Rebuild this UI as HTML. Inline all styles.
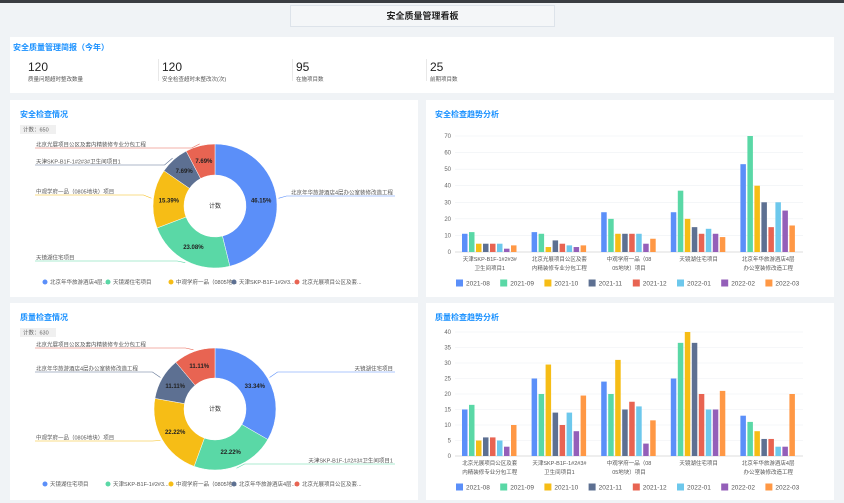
<!DOCTYPE html>
<html><head><meta charset="utf-8">
<style>
*{margin:0;padding:0;box-sizing:border-box}
body{width:844px;height:503px;background:#f0f3f6;font-family:"Liberation Sans","Noto Sans CJK SC",sans-serif;position:relative;overflow:hidden}
.top{position:absolute;left:0;top:0;width:844px;height:3px;background:#3a3d42}
.tbox{position:absolute;left:290px;top:5px;width:265px;height:22px;border:1px solid #dde3ea;background:#f4f6f8;text-align:center;font-size:9px;font-weight:bold;line-height:21px;color:#222}
.card{position:absolute;background:#fff}
.ct{position:absolute;left:10px;top:9px;font-size:8px;color:#1890ff;font-weight:bold}
.num{position:absolute;font-size:12px;color:#222;top:23px}
.lab{position:absolute;font-size:5.5px;color:#555;top:38px}
.sep{position:absolute;top:22px;width:1px;height:22px;background:#e8e8e8}
svg text{font-family:"Liberation Sans","Noto Sans CJK SC",sans-serif}
</style></head><body>
<div class="top"></div>
<div class="tbox">安全质量管理看板</div>
<div class="card" style="left:10px;top:37px;width:824px;height:56px">
 <div class="ct" style="left:3px;top:5px">安全质量管理简报（今年）</div>
 <div class="num" style="left:18px">120</div><div class="lab" style="left:18px">质量问题超时整改数量</div>
 <div class="sep" style="left:148px"></div>
 <div class="num" style="left:152px">120</div><div class="lab" style="left:152px">安全检查超时未整改次(次)</div>
 <div class="sep" style="left:282px"></div>
 <div class="num" style="left:286px">95</div><div class="lab" style="left:286px">在施项目数</div>
 <div class="sep" style="left:416px"></div>
 <div class="num" style="left:420px">25</div><div class="lab" style="left:420px">前期项目数</div>
</div>
<div class="card" style="left:10px;top:100px;width:408px;height:197px"><div class="ct">安全检查情况</div></div>
<div class="card" style="left:426px;top:100px;width:408px;height:197px"><div class="ct" style="left:9px">安全检查趋势分析</div></div>
<div class="card" style="left:10px;top:303px;width:408px;height:197px"><div class="ct">质量检查情况</div></div>
<div class="card" style="left:426px;top:303px;width:408px;height:197px"><div class="ct" style="left:9px">质量检查趋势分析</div></div>
<svg id="s" width="844" height="503" style="position:absolute;left:0;top:0"></svg>
<script>
var C=["#5b8ff9","#5ad8a6","#f6bd16","#5d7092","#e86452","#6dc8ec","#945fb9","#ff9845"];
var h="";
function pie(cx,cy,R,r,vals,badge,by,labels,leg){
 h+='<rect x="20" y="'+by+'" width="36" height="9" fill="#f0f0f0"/><text x="23" y="'+(by+6.5)+'" font-size="5.5" fill="#666">计数：'+badge+'</text>';
 var a=0;
 vals.forEach(function(v,i){
  var a1=a+v/100*2*Math.PI;
  var p=function(an,rr){return [cx+rr*Math.sin(an),cy-rr*Math.cos(an)]};
  var A=p(a,R),B=p(a1,R),D=p(a1,r),E=p(a,r),lg=(a1-a)>Math.PI?1:0;
  h+='<path d="M'+A+' A'+R+','+R+' 0 '+lg+' 1 '+B+' L'+D+' A'+r+','+r+' 0 '+lg+' 0 '+E+'Z" fill="'+C[i]+'" stroke="#fff" stroke-width="0.5"/>';
  var m=(a+a1)/2,T=p(m,(R+r)/2);
  h+='<text x="'+T[0]+'" y="'+(T[1]+2)+'" font-size="6" font-weight="bold" text-anchor="middle" fill="#222">'+v.toFixed(2)+'%</text>';
  var L=labels[i],Q=p(m,R+2);
  var ex=L[2]?395:35;
  h+='<polyline points="'+Q+' '+(L[2]?Q[0]+8:Q[0]-8)+','+(L[1]+3)+' '+ex+','+(L[1]+3)+'" fill="none" stroke="'+C[i]+'" stroke-width="0.6"/>';
  h+='<text x="'+(L[2]?393:36)+'" y="'+(L[1]+1.5)+'" font-size="5.5" fill="#555" text-anchor="'+(L[2]?'end':'start')+'">'+L[0]+'</text>';
  a=a1;
 });
 h+='<text x="'+cx+'" y="'+(cy+2)+'" font-size="6" text-anchor="middle" fill="#333">计数</text>';
 leg.forEach(function(t,i){var x=45+i*63;h+='<circle cx="'+x+'" cy="'+leg.y+'" r="2.5" fill="'+C[i]+'"/><text x="'+(x+5)+'" y="'+(leg.y+2)+'" font-size="5.5" fill="#555">'+t+'</text>';});
}
var l1=["北京年华旅游酒店4层...","天镜湖住宅项目","中观学府一品（0805地...","天津SKP-B1F-1#2#3...","北京光展项目公区及套..."];l1.y=282;
pie(215,206,62,31,[46.15,23.08,15.39,7.69,7.69],650,125,[["北京年华旅游酒店4层办公室装修改造工程",193,1],["天镜湖住宅项目",258,0],["中观学府一品（0805地块）项目",192,0],["天津SKP-B1F-1#2#3#卫生间项目1",162,0],["北京光展项目公区及套内精装修专业分包工程",145,0]],l1);
var l2=["天镜湖住宅项目","天津SKP-B1F-1#2#3...","中观学府一品（0805地...","北京年华旅游酒店4层...","北京光展项目公区及套..."];l2.y=484;
pie(215,409,61,31,[33.34,22.22,22.22,11.11,11.11],630,328,[["天镜湖住宅项目",369,1],["天津SKP-B1F-1#2#3#卫生间项目1",461,1],["中观学府一品（0805地块）项目",438,0],["北京年华旅游酒店4层办公室装修改造工程",369,0],["北京光展项目公区及套内精装修专业分包工程",345,0]],l2);
function bar(y0,y1,max,step,data,cats,ly){
 var x0=455,x1=803,gw=(x1-x0)/5;
 for(var v=0;v<=max;v+=step){var y=y0-(y0-y1)*v/max;
  h+='<line x1="'+x0+'" x2="'+x1+'" y1="'+y+'" y2="'+y+'" stroke="'+(v?'#eef0f3':'#bbb')+'" stroke-width="0.6"/>';
  h+='<text x="'+(x0-4)+'" y="'+(y+2)+'" font-size="6" fill="#666" text-anchor="end">'+v+'</text>';}
 data.forEach(function(g,gi){
  g.forEach(function(v,i){var bh=(y0-y1)*v/max;var x=x0+gi*gw+7+i*7;
   h+='<rect x="'+x+'" y="'+(y0-bh)+'" width="5.5" height="'+bh+'" fill="'+C[i]+'"/>';});
  cats[gi].forEach(function(t,k){h+='<text x="'+(x0+gi*gw+gw/2)+'" y="'+(y0+9+k*9)+'" font-size="5.5" fill="#555" text-anchor="middle">'+t+'</text>';});
 });
 ["2021-08","2021-09","2021-10","2021-11","2021-12","2022-01","2022-02","2022-03"].forEach(function(t,i){var x=456+i*44.2;
  h+='<rect x="'+x+'" y="'+(ly-3.5)+'" width="7" height="7" fill="'+C[i]+'"/><text x="'+(x+10)+'" y="'+(ly+2.5)+'" font-size="6.5" fill="#555">'+t+'</text>';});
}
bar(252,136,70,10,[[11,12,5,5,5,5,2,4],[12,11,3,7,5,4,3,4],[24,20,11,11,11,11,5,8],[24,37,20,15,11,14,11,9],[53,70,40,30,15,30,25,16]],
 [["天津SKP-B1F-1#2#3#","卫生间项目1"],["北京光展项目公区及套","内精装修专业分包工程"],["中观学府一品（08","05地块）项目"],["天镜湖住宅项目"],["北京年华旅游酒店4层","办公室装修改造工程"]],283);
bar(456,332,40,5,[[15,16.5,5,6,6,5,3,10],[25,20,29.5,14,10,14,8,19.5],[24,20,31,15,17.5,16,4,11.5],[25,36.5,40,36.5,20,15,15,21],[13,11,8,5.5,5.5,3,3,20]],
 [["北京光展项目公区及套","内精装修专业分包工程"],["天津SKP-B1F-1#2#3#","卫生间项目1"],["中观学府一品（08","05地块）项目"],["天镜湖住宅项目"],["北京年华旅游酒店4层","办公室装修改造工程"]],487);
document.getElementById("s").innerHTML=h;
</script>
</body></html>
